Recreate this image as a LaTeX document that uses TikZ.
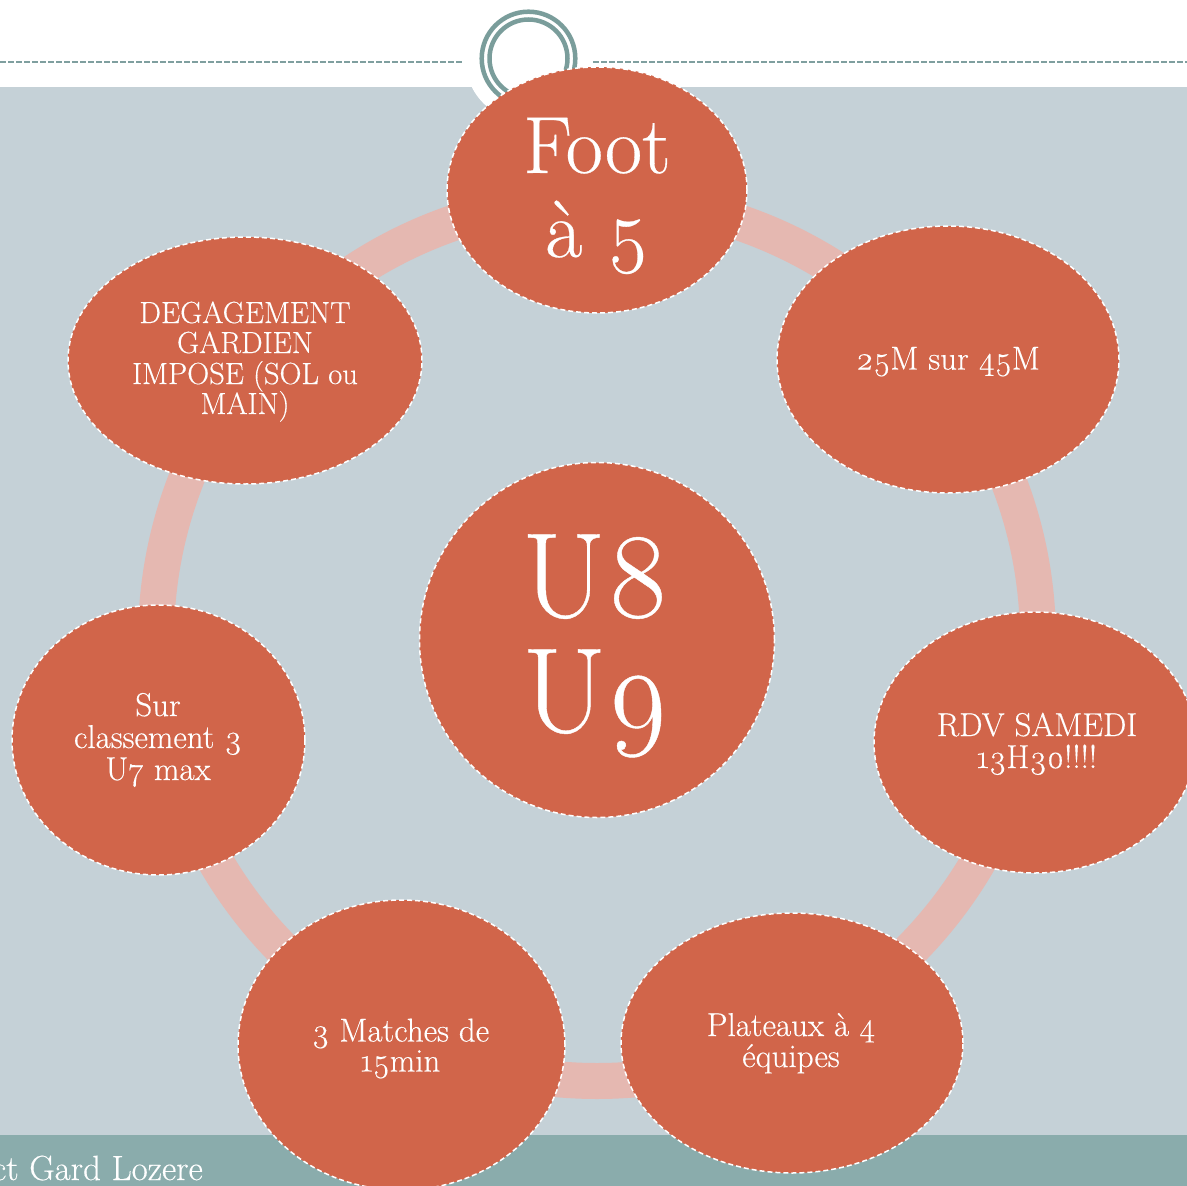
\documentclass[tikz,border=0pt]{standalone}
\usepackage{fontspec}
\setmainfont{Latin Modern Roman}[Numbers=OldStyle, FakeBold=0.35]
\usetikzlibrary{shapes.geometric}
\definecolor{bggray}{HTML}{C5D1D7}
\definecolor{orng}{HTML}{D1654A}
\definecolor{pinkring}{HTML}{E5B8B1}
\definecolor{tealband}{HTML}{8AACAC}
\definecolor{logoteal}{HTML}{7A9D9B}
\definecolor{dashteal}{HTML}{7F9F9F}
\newcommand\fsml{\fontsize{33}{32}\selectfont}
\newcommand\fdeg{\fontsize{30.5}{30}\selectfont}
\newcommand\ffoot{\fontsize{81}{84}\selectfont}
\newcommand\fbig{\fontsize{121}{115}\selectfont}
\newcommand\fband{\fontsize{35}{34}\selectfont}
\begin{document}
\begin{tikzpicture}[x=1pt,y=-1pt,
  bubble/.style={ellipse, fill=orng, draw=white, line width=1.5pt,
    dash pattern=on 5pt off 3pt, inner sep=0pt},
  lbl/.style={anchor=base, text=white, inner sep=0pt, font=\fsml},
  hdash/.style={draw=dashteal, line width=2.2pt, dash pattern=on 6pt off 2pt},
  logoring/.style={draw=logoteal, line width=4.5pt}]
\useasboundingbox (0,0) rectangle (1187,1186);
\clip (0,0) rectangle (1187,1186);
% backgrounds
\fill[white] (0,0) rectangle (1187,87);
\fill[bggray] (0,87) rectangle (1187,1135);
\fill[tealband] (0,1135) rectangle (1187,1186);
% header
\coordinate (logo) at (528.5,58.5);
\fill[white] (logo) circle[radius=63.5pt];
\draw[logoring] (logo) circle[radius=46.8pt];
\draw[logoring] (logo) circle[radius=39pt];
\coordinate (hl0) at (0,62);
\coordinate (hl1) at (463,62);
\coordinate (hr0) at (593,62);
\coordinate (hr1) at (1187,62);
\draw[hdash] (hl0) -- (hl1);
\draw[hdash] (hr0) -- (hr1);
% ring
\coordinate (ctr) at (597,640);
\draw[pinkring, line width=36pt] (ctr) circle[radius=441pt];
% bubbles
\node[bubble, minimum width=300pt, minimum height=246pt] (foot) at (597,190) {};
\node[bubble, minimum width=342pt, minimum height=267pt] (terrain) at (948,359.5) {};
\node[bubble, minimum width=322pt, minimum height=261pt] (rdv) at (1035,742.5) {};
\node[bubble, minimum width=342pt, minimum height=260pt] (plateaux) at (792,1043) {};
\node[bubble, minimum width=327pt, minimum height=290pt] (matches) at (401.5,1045) {};
\node[bubble, minimum width=293pt, minimum height=270pt] (classement) at (158.5,740) {};
\node[bubble, minimum width=354pt, minimum height=247pt] (degagement) at (245,360.5) {};
\node[bubble, circle, minimum size=355pt] (age) at (597,640) {};
% texts
\node[lbl, font=\ffoot] (foot1) at (597,173) {Foot};
\node[lbl, font=\ffoot] (foot2) at (597,257) {à 5};
\node[lbl] (terrain1) at (948,369.5) {25M sur 45M};
\node[lbl] (rdv1) at (1037,736) {RDV SAMEDI};
\node[lbl] (rdv2) at (1037,768) {13H30!!!!};
\node[lbl] (plat1) at (791,1036) {Plateaux à 4};
\node[lbl] (plat2) at (791,1067) {équipes};
\node[lbl] (match1) at (400.5,1041.5) {3 Matches de};
\node[lbl] (match2) at (400.5,1071.5) {15min};
\node[lbl] (class1) at (158,716) {Sur};
\node[lbl] (class2) at (158,748) {classement 3};
\node[lbl] (class3) at (158,780) {U7 max};
\node[lbl, font=\fdeg] (deg1) at (245,323) {DEGAGEMENT};
\node[lbl, font=\fdeg] (deg2) at (245,353) {GARDIEN};
\node[lbl, font=\fdeg] (deg3) at (245,384) {IMPOSE (SOL ou};
\node[lbl, font=\fdeg] (deg4) at (245,414) {MAIN)};
\node[lbl, font=\fbig] (age1) at (596,617) {U8};
\node[lbl, font=\fbig] (age2) at (596,732) {U9};
\node[lbl, font=\fband, anchor=base east] (band) at (203,1180) {ct Gard Lozere};
\end{tikzpicture}
\end{document}
